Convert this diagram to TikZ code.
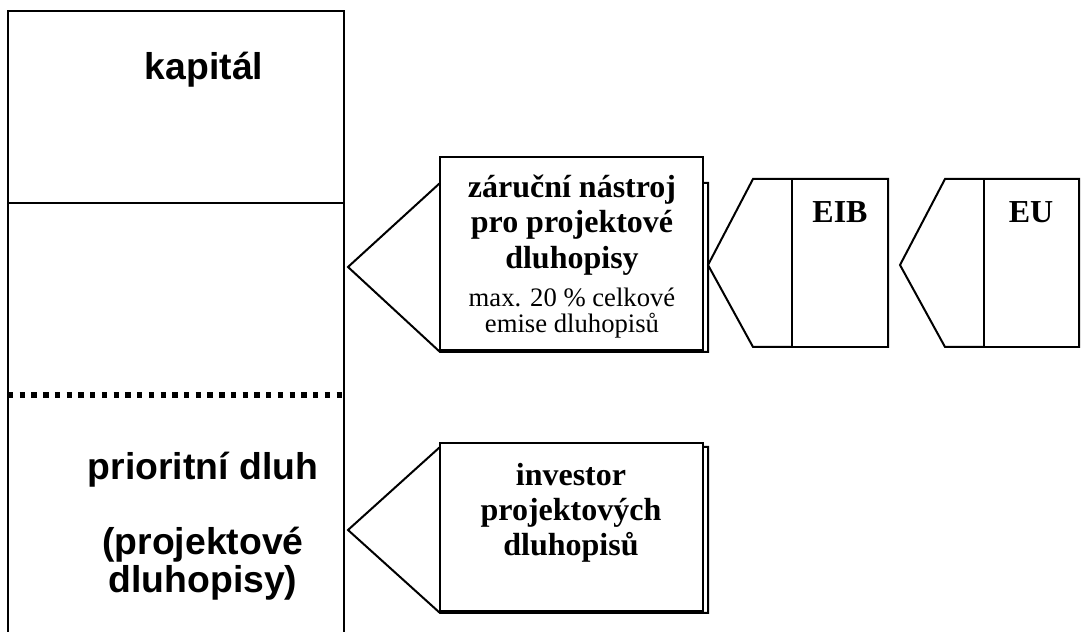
\documentclass[tikz,border=0pt]{standalone}
\usepackage{fontspec}
\setmainfont{Liberation Serif}
\newfontfamily\arialfont{Liberation Sans}
\usetikzlibrary{positioning}
\tikzset{
  outline/.style={draw, line width=0.75pt, line join=miter},
  docbox/.style={outline, fill=white, inner sep=0pt},
  dotline/.style={line width=2pt, dash pattern=on 2pt off 2.4pt},
  sanslabel/.style={font=\arialfont\bfseries\fontsize{14}{12}\selectfont, align=center, inner sep=0pt},
  titletext/.style={font=\bfseries\fontsize{12}{13.2}\selectfont, align=center, inner sep=0pt},
  notetext/.style={font=\fontsize{10}{9.6}\selectfont, align=center, inner sep=0pt}
}

\begin{document}
\begin{tikzpicture}[x=0.375pt, y=-0.375pt, line width=0.75pt]
      \useasboundingbox (0,0) rectangle (1081,632);

      % bilance projektu
      \draw[outline] (8,632) -- (8,11) -- (344,11) -- (344,632);
      \draw[line width=0.5pt] (8,203) -- (344,203);
      \draw[dotline] (8,395) -- (344,395);
      \node[sanslabel] (Kapital) at (204,70) {kapitál};
      \node[sanslabel] (Senior) at (203,526) {prioritní dluh\\[14.2pt](projektové\\dluhopisy)};

      % zarucni nastroj
      \draw[outline, fill=white] (348,267) -- (440,183) -- (708,183) -- (708,352) -- (440,352) -- cycle;
      \node[docbox, minimum width=98.6pt, minimum height=72.4pt] (Guar) at (571.5,253.5) {};
      \node[titletext] (GuarTitle) at (572,225) {záruční nástroj\\pro projektové\\dluhopisy};
      \node[notetext, on grid, below=33pt of GuarTitle] (GuarNote) {max. 20 \% celkové\\emise dluhopisů};

      % EIB a EU
      \draw[outline, fill=white] (708,265) -- (753,179) -- (888,179) -- (888,347) -- (753,347) -- cycle;
      \node[docbox, minimum width=36pt, minimum height=63pt] (EIB) at (840,263) {};
      \node[titletext] (EIBText) at (840,212) {EIB};
      \draw[outline, fill=white] (900,265) -- (945,179) -- (1079,179) -- (1079,347) -- (945,347) -- cycle;
      \node[docbox, minimum width=35.6pt, minimum height=63pt] (EU) at (1031.5,263) {};
      \node[titletext] (EUText) at (1031,212) {EU};

      % investor
      \draw[outline, fill=white] (348,530) -- (440,447) -- (708,447) -- (708,613) -- (440,613) -- cycle;
      \node[docbox, minimum width=98.6pt, minimum height=63pt] (Investor) at (571.5,527) {};
      \node[titletext] (InvText) at (571,513) {investor\\projektových\\dluhopisů};
\end{tikzpicture}
\end{document}
